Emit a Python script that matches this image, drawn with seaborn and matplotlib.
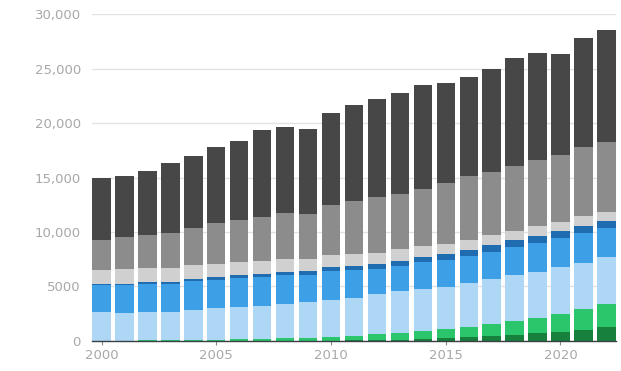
import numpy as np
import pandas as pd
import seaborn as sns
import matplotlib.pyplot as plt

years = list(range(2000, 2023))

# electricity generation by source (TWh), bottom to top of each stack
solar = [1, 1, 1, 1, 2, 4, 5, 7, 12, 20, 32, 62, 97, 130, 190, 256, 329, 445, 571, 697, 848, 1040, 1290]
wind = [31, 38, 52, 63, 85, 104, 133, 171, 220, 276, 342, 437, 521, 640, 712, 831, 957, 1134, 1270, 1420, 1597, 1850, 2100]
hydro = [2613, 2557, 2610, 2620, 2790, 2900, 3000, 3050, 3200, 3240, 3420, 3480, 3650, 3780, 3880, 3870, 4020, 4070, 4180, 4230, 4350, 4270, 4330]
nuclear = [2450, 2520, 2550, 2540, 2640, 2630, 2660, 2610, 2600, 2560, 2630, 2520, 2350, 2370, 2420, 2440, 2480, 2530, 2580, 2660, 2610, 2740, 2610]
bioenergy = [140, 150, 170, 190, 210, 230, 250, 270, 290, 310, 360, 390, 430, 460, 500, 540, 560, 590, 620, 650, 660, 690, 700]
other_fossil = [1300, 1300, 1280, 1260, 1250, 1240, 1220, 1200, 1180, 1150, 1100, 1080, 1060, 1020, 980, 960, 940, 920, 900, 880, 840, 860, 830]
gas = [2740, 2930, 3040, 3230, 3420, 3690, 3830, 4090, 4200, 4140, 4620, 4880, 5090, 5100, 5220, 5600, 5810, 5810, 5980, 6060, 6200, 6350, 6440]
coal = [5680, 5650, 5900, 6400, 6600, 7000, 7300, 8000, 7900, 7800, 8400, 8800, 9000, 9250, 9600, 9150, 9100, 9500, 9900, 9800, 9200, 10000, 10200]

sources = ["Solar", "Wind", "Hydro", "Nuclear", "Bioenergy", "Other fossil", "Gas", "Coal"]
colors = ["#17803d", "#2bc56b", "#aed6f5", "#3d9fe6", "#1f6cb0", "#d0d0d0", "#8c8c8c", "#474747"]

y_ticks = [0, 5000, 10000, 15000, 20000, 25000, 30000]
y_tick_labels = ["0", "5000", "10,000", "15,000", "20,000", "25,000", "30,000"]
x_tick_years = [2000, 2005, 2010, 2015, 2020]

df = pd.DataFrame({"year": [str(y) for y in years], "Solar": solar, "Wind": wind,
                   "Hydro": hydro, "Nuclear": nuclear, "Bioenergy": bioenergy,
                   "Other fossil": other_fossil, "Gas": gas, "Coal": coal})
cum = df[sources].cumsum(axis=1)

sns.set_style("white")
plt.rcParams['font.family'] = ['DejaVu Sans']

fig = plt.figure(figsize=(6.21, 3.71), dpi=100)
ax = fig.add_axes([0.148, 0.081, 0.844, 0.881])

# draw the stacks top-down so each lower layer covers the one above it
for src, col in reversed(list(zip(sources, colors))):
    sns.barplot(x=df["year"], y=cum[src], color=col, saturation=1, width=0.8,
                linewidth=0, ax=ax, zorder=2)

ax.set_ylim(0, 30000)
ax.set_xlim(-0.42, len(years) - 0.58)
ax.set_yticks(y_ticks)
ax.set_yticklabels(y_tick_labels)
ax.set_xticks([years.index(y) for y in x_tick_years])
ax.set_xticklabels([str(y) for y in x_tick_years])
ax.set_xlabel("")
ax.set_ylabel("")

ax.grid(axis="y", color="#e2e2e2", linewidth=1, zorder=0)
ax.grid(axis="x", visible=False)
for side in ["top", "right", "left"]:
    ax.spines[side].set_visible(False)
ax.spines["bottom"].set_color("#3a3f44")
ax.spines["bottom"].set_linewidth(1)
ax.spines["bottom"].set_zorder(3)

ax.tick_params(axis="y", length=0, pad=8, labelsize=9.5, labelcolor="#a8a8a8")
ax.tick_params(axis="x", length=3, width=0.8, color="#888888", pad=3,
               labelsize=9.5, labelcolor="#a8a8a8", bottom=True)

fig.savefig("out.png", dpi=100)
